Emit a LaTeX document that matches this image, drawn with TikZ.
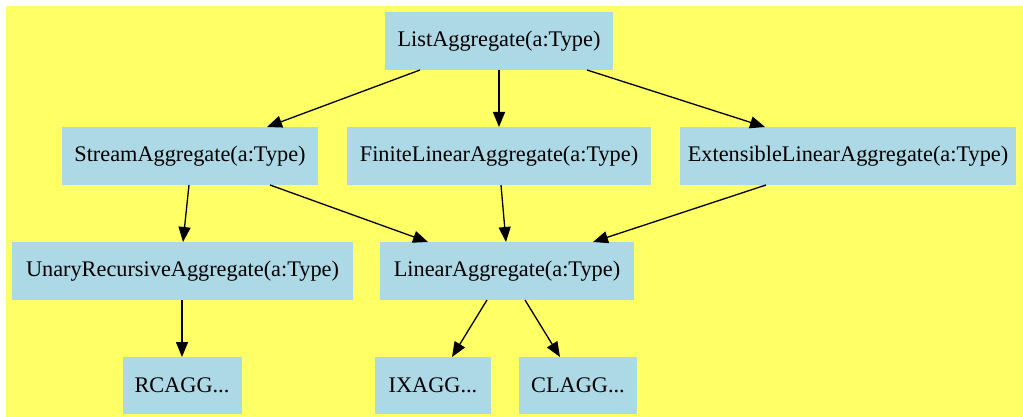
\documentclass[tikz,border=0pt]{standalone}
\usepackage{fontspec}
\setmainfont{Liberation Serif}
\usetikzlibrary{arrows.meta}
\definecolor{bgyellow}{HTML}{FFFF66}
\definecolor{boxblue}{HTML}{ADD8E6}
\tikzset{
  box/.style={fill=boxblue, draw=none, rectangle, inner sep=0pt, outer sep=0pt,
    minimum height=58pt, font=\fontsize{22.3pt}{26pt}\selectfont},
  edge/.style={draw=black, line width=1.3pt, -{Triangle[length=15pt,width=12pt]}}
}
\newcommand{\lbl}[1]{\raisebox{-1.5pt}{#1}}
\begin{document}
\begin{tikzpicture}[x=1pt,y=-1pt]
\fill[white] (0,0) rectangle (1023,417);
\useasboundingbox (0,0) rectangle (1023,417);
\fill[bgyellow] (6,6) rectangle (1023,417);

\node[box, minimum width=228pt] (list) at (499,41) {\lbl{ListAggregate(a:Type)}};
\node[box, minimum width=256pt] (stream) at (190,156) {\lbl{StreamAggregate(a:Type)}};
\node[box, minimum width=304pt] (finite) at (499,156) {\lbl{FiniteLinearAggregate(a:Type)}};
\node[box, minimum width=336pt] (ext) at (848,156) {\lbl{ExtensibleLinearAggregate(a:Type)}};
\node[box, minimum width=341pt] (unary) at (182.5,271) {\lbl{UnaryRecursiveAggregate(a:Type)}};
\node[box, minimum width=254pt] (linear) at (507,271) {\lbl{LinearAggregate(a:Type)}};
\node[box, minimum width=119pt, minimum height=57pt] (rc) at (182,385.5) {\lbl{RCAGG...}};
\node[box, minimum width=116pt, minimum height=57pt] (ix) at (433,385.5) {\lbl{IXAGG...}};
\node[box, minimum width=118pt, minimum height=57pt] (cl) at (578,385.5) {\lbl{CLAGG...}};

\draw[edge] ([xshift=-79pt]list.south) -- ([xshift=77pt]stream.north);
\draw[edge] (list.south) -- (finite.north);
\draw[edge] ([xshift=88pt]list.south) -- ([xshift=-83pt]ext.north);
\draw[edge] ([xshift=-1pt]stream.south) -- ([xshift=0.5pt]unary.north);
\draw[edge] ([xshift=80pt]stream.south) -- ([xshift=-79pt]linear.north);
\draw[edge] ([xshift=2pt]finite.south) -- ([xshift=-1pt]linear.north);
\draw[edge] ([xshift=-82pt]ext.south) -- ([xshift=86pt]linear.north);
\draw[edge] (unary.south -| rc.north) -- (rc.north);
\draw[edge] ([xshift=-20pt]linear.south) -- ([xshift=19pt]ix.north);
\draw[edge] ([xshift=18pt]linear.south) -- ([xshift=-18pt]cl.north);
\end{tikzpicture}
\end{document}
